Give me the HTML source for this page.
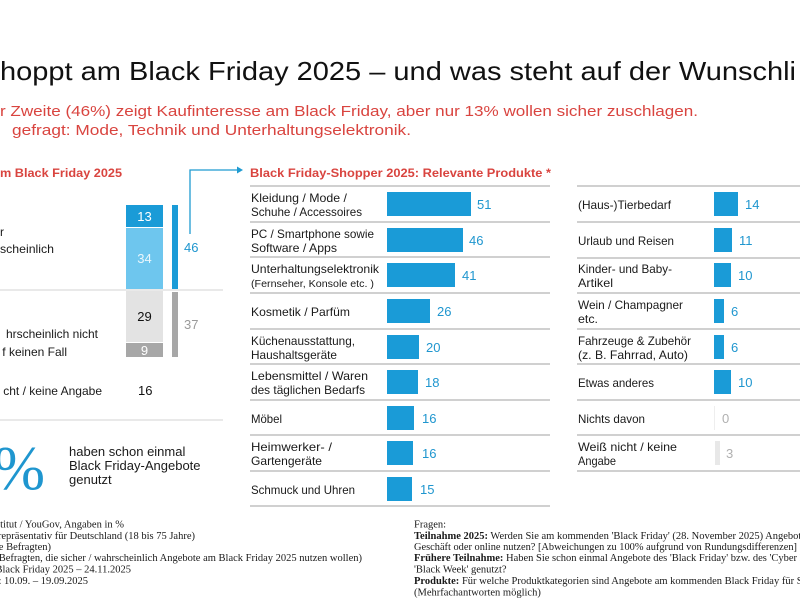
<!DOCTYPE html>
<html>
<head>
<meta charset="utf-8">
<style>
html,body{margin:0;padding:0;background:#fff;}
body{width:800px;height:600px;overflow:hidden;}
svg{display:block;}
text{font-family:"Liberation Sans","DejaVu Sans",sans-serif;}
.s{font-family:"Liberation Serif","DejaVu Serif",serif;font-size:10.5px;fill:#1a1a1a;}
.lb{font-size:12px;fill:#1a1a1a;}
.v{font-size:13px;fill:#1f96cf;}
.rl{stroke:#b4b4b4;stroke-width:1.2;}
.bar{fill:#1a9bd7;}
.pc{font-family:"Liberation Serif","DejaVu Serif",serif;font-size:62px;fill:#1f96cf;}
</style>
</head>
<body>
<svg width="800" height="600" viewBox="0 0 800 600" xmlns="http://www.w3.org/2000/svg">
<rect width="800" height="600" fill="#fff"/>

<!-- Title -->
<text x="0" y="80" font-size="26" fill="#111" textLength="796" lengthAdjust="spacingAndGlyphs">hoppt am Black Friday 2025 – und was steht auf der Wunschli</text>
<text x="0" y="116" font-size="15" fill="#d9443f" textLength="698" lengthAdjust="spacingAndGlyphs">r Zweite (46%) zeigt Kaufinteresse am Black Friday, aber nur 13% wollen sicher zuschlagen.</text>
<text x="12" y="135" font-size="15" fill="#d9443f" textLength="399" lengthAdjust="spacingAndGlyphs">gefragt: Mode, Technik und Unterhaltungselektronik.</text>

<!-- Left chart -->
<text x="0" y="177" font-size="12" font-weight="bold" fill="#d9443f" textLength="122" lengthAdjust="spacingAndGlyphs">m Black Friday 2025</text>

<rect x="126" y="205" width="37" height="22" fill="#1a9bd7"/>
<rect x="126" y="228" width="37" height="61" fill="#6ec6ee"/>
<rect x="126" y="291" width="37" height="51" fill="#e3e3e3"/>
<rect x="126" y="343" width="37" height="14" fill="#a7a7a7"/>
<text x="144.5" y="221" text-anchor="middle" font-size="13" fill="#fff">13</text>
<text x="144.5" y="263" text-anchor="middle" font-size="13" fill="#eaf6fc">34</text>
<text x="144.5" y="321" text-anchor="middle" font-size="13" fill="#111">29</text>
<text x="144.5" y="355" text-anchor="middle" font-size="13" fill="#fff">9</text>

<rect x="172" y="205" width="6" height="84" fill="#1a9bd7"/>
<rect x="172" y="292" width="6" height="65" fill="#a7a7a7"/>
<text x="184" y="252" font-size="13" fill="#1f96cf">46</text>
<text x="184" y="329" font-size="13" fill="#9a9a9a">37</text>

<line x1="0" y1="290" x2="223" y2="290" stroke="#dcdcdc" stroke-width="1.2"/>

<!-- arrow -->
<polyline points="190,234 190,170 238,170" fill="none" stroke="#1f9bd1" stroke-width="1.3"/>
<polygon points="237,166.5 243,170 237,173.5" fill="#1f9bd1"/>

<text x="0" y="236" class="lb">r</text>
<text x="0" y="253" class="lb" textLength="54" lengthAdjust="spacingAndGlyphs">scheinlich</text>
<text x="98" y="338" text-anchor="end" class="lb">hrscheinlich nicht</text>
<text x="67" y="356" text-anchor="end" class="lb">f keinen Fall</text>
<text x="102" y="395" text-anchor="end" class="lb">cht / keine Angabe</text>
<text x="138" y="395" font-size="13" fill="#111">16</text>

<line x1="0" y1="420" x2="223" y2="420" stroke="#dcdcdc" stroke-width="1.2"/>

<text x="45" y="489" text-anchor="end" class="pc">%</text>
<text x="69" y="456" font-size="13" fill="#1a1a1a">haben schon einmal</text>
<text x="69" y="470" font-size="13" fill="#1a1a1a">Black Friday-Angebote</text>
<text x="69" y="484" font-size="13" fill="#1a1a1a">genutzt</text>

<!-- Middle chart -->
<text x="250" y="177" font-size="12" font-weight="bold" fill="#d9443f" textLength="301" lengthAdjust="spacingAndGlyphs">Black Friday-Shopper 2025: Relevante Produkte *</text>
<line x1="250" y1="186" x2="550" y2="186" class="rl"/>
<line x1="250" y1="222" x2="550" y2="222" class="rl"/>
<line x1="250" y1="257" x2="550" y2="257" class="rl"/>
<line x1="250" y1="293" x2="550" y2="293" class="rl"/>
<line x1="250" y1="329" x2="550" y2="329" class="rl"/>
<line x1="250" y1="364" x2="550" y2="364" class="rl"/>
<line x1="250" y1="400" x2="550" y2="400" class="rl"/>
<line x1="250" y1="435" x2="550" y2="435" class="rl"/>
<line x1="250" y1="471" x2="550" y2="471" class="rl"/>
<line x1="250" y1="506" x2="550" y2="506" class="rl"/>

<rect class="bar" x="387" y="192" width="84" height="24"/>
<rect class="bar" x="387" y="228" width="76" height="24"/>
<rect class="bar" x="387" y="263" width="68" height="24"/>
<rect class="bar" x="387" y="299" width="43" height="24"/>
<rect class="bar" x="387" y="335" width="32" height="24"/>
<rect class="bar" x="387" y="370" width="31" height="24"/>
<rect class="bar" x="387" y="406" width="27" height="24"/>
<rect class="bar" x="387" y="441" width="26" height="24"/>
<rect class="bar" x="387" y="477" width="25" height="24"/>

<text class="v" x="477" y="209">51</text>
<text class="v" x="469" y="245">46</text>
<text class="v" x="462" y="280">41</text>
<text class="v" x="437" y="316">26</text>
<text class="v" x="426" y="352">20</text>
<text class="v" x="425" y="387">18</text>
<text class="v" x="422" y="423">16</text>
<text class="v" x="422" y="458">16</text>
<text class="v" x="420" y="494">15</text>

<text class="lb" x="251" y="202" textLength="96" lengthAdjust="spacingAndGlyphs">Kleidung / Mode /</text>
<text class="lb" x="251" y="216" textLength="111" lengthAdjust="spacingAndGlyphs">Schuhe / Accessoires</text>
<text class="lb" x="251" y="238" textLength="123" lengthAdjust="spacingAndGlyphs">PC / Smartphone sowie</text>
<text class="lb" x="251" y="252" textLength="86" lengthAdjust="spacingAndGlyphs">Software / Apps</text>
<text class="lb" x="251" y="273" textLength="128" lengthAdjust="spacingAndGlyphs">Unterhaltungselektronik</text>
<text x="251" y="287" font-size="10.5" fill="#1a1a1a" textLength="123" lengthAdjust="spacingAndGlyphs">(Fernseher, Konsole etc. )</text>
<text class="lb" x="251" y="316" textLength="99" lengthAdjust="spacingAndGlyphs">Kosmetik / Parfüm</text>
<text class="lb" x="251" y="345" textLength="104" lengthAdjust="spacingAndGlyphs">Küchenausstattung,</text>
<text class="lb" x="251" y="359" textLength="86" lengthAdjust="spacingAndGlyphs">Haushaltsgeräte</text>
<text class="lb" x="251" y="380" textLength="117" lengthAdjust="spacingAndGlyphs">Lebensmittel / Waren</text>
<text class="lb" x="251" y="394" textLength="114" lengthAdjust="spacingAndGlyphs">des täglichen Bedarfs</text>
<text class="lb" x="251" y="423" textLength="31" lengthAdjust="spacingAndGlyphs">Möbel</text>
<text class="lb" x="251" y="451" textLength="81" lengthAdjust="spacingAndGlyphs">Heimwerker- /</text>
<text class="lb" x="251" y="465" textLength="71" lengthAdjust="spacingAndGlyphs">Gartengeräte</text>
<text class="lb" x="251" y="494" textLength="104" lengthAdjust="spacingAndGlyphs">Schmuck und Uhren</text>

<!-- Right chart -->
<line x1="577" y1="186" x2="800" y2="186" class="rl"/>
<line x1="577" y1="222" x2="800" y2="222" class="rl"/>
<line x1="577" y1="258" x2="800" y2="258" class="rl"/>
<line x1="577" y1="293" x2="800" y2="293" class="rl"/>
<line x1="577" y1="329" x2="800" y2="329" class="rl"/>
<line x1="577" y1="364" x2="800" y2="364" class="rl"/>
<line x1="577" y1="400" x2="800" y2="400" class="rl"/>
<line x1="577" y1="435" x2="800" y2="435" class="rl"/>
<line x1="577" y1="471" x2="800" y2="471" class="rl"/>

<rect class="bar" x="714" y="192" width="24" height="24"/>
<rect class="bar" x="714" y="228" width="18" height="24"/>
<rect class="bar" x="714" y="263" width="17" height="24"/>
<rect class="bar" x="714" y="299" width="10" height="24"/>
<rect class="bar" x="714" y="335" width="10" height="24"/>
<rect class="bar" x="714" y="370" width="17" height="24"/>
<rect x="714" y="406" width="1" height="24" fill="#eeeeee"/>
<rect x="715" y="441" width="5" height="24" fill="#e8e8e8"/>

<text class="v" x="745" y="209">14</text>
<text class="v" x="739" y="245">11</text>
<text class="v" x="738" y="280">10</text>
<text class="v" x="731" y="316">6</text>
<text class="v" x="731" y="352">6</text>
<text class="v" x="738" y="387">10</text>
<text x="722" y="423" font-size="13" fill="#b0b0b0">0</text>
<text x="726" y="458" font-size="13" fill="#b0b0b0">3</text>

<text class="lb" x="578" y="209" textLength="93" lengthAdjust="spacingAndGlyphs">(Haus-)Tierbedarf</text>
<text class="lb" x="578" y="245" textLength="96" lengthAdjust="spacingAndGlyphs">Urlaub und Reisen</text>
<text class="lb" x="578" y="273" textLength="94" lengthAdjust="spacingAndGlyphs">Kinder- und Baby-</text>
<text class="lb" x="578" y="287" textLength="35" lengthAdjust="spacingAndGlyphs">Artikel</text>
<text class="lb" x="578" y="309" textLength="105" lengthAdjust="spacingAndGlyphs">Wein / Champagner</text>
<text class="lb" x="578" y="323" textLength="20" lengthAdjust="spacingAndGlyphs">etc.</text>
<text class="lb" x="578" y="345" textLength="113" lengthAdjust="spacingAndGlyphs">Fahrzeuge &amp; Zubehör</text>
<text class="lb" x="578" y="359" textLength="110" lengthAdjust="spacingAndGlyphs">(z. B. Fahrrad, Auto)</text>
<text class="lb" x="578" y="387" textLength="76" lengthAdjust="spacingAndGlyphs">Etwas anderes</text>
<text class="lb" x="578" y="423" textLength="67" lengthAdjust="spacingAndGlyphs">Nichts davon</text>
<text class="lb" x="578" y="451" textLength="99" lengthAdjust="spacingAndGlyphs">Weiß nicht / keine</text>
<text class="lb" x="578" y="465" textLength="38" lengthAdjust="spacingAndGlyphs">Angabe</text>

<!-- Footer left -->
<text class="s" x="124" y="527.5" text-anchor="end">titut / YouGov, Angaben in %</text>
<text class="s" x="195" y="539" text-anchor="end">repräsentativ für Deutschland (18 bis 75 Jahre)</text>
<text class="s" x="51" y="550" text-anchor="end">le Befragten)</text>
<text class="s" x="362" y="561" text-anchor="end">e Befragten, die sicher / wahrscheinlich Angebote am Black Friday 2025 nutzen wollen)</text>
<text class="s" x="131" y="572.5" text-anchor="end">h Black Friday 2025 – 24.11.2025</text>
<text class="s" x="88" y="584" text-anchor="end">m: 10.09. – 19.09.2025</text>

<!-- Footer right -->
<text class="s" x="414" y="527.5">Fragen:</text>
<text class="s" x="414" y="539"><tspan font-weight="bold">Teilnahme 2025:</tspan> Werden Sie am kommenden 'Black Friday' (28. November 2025) Angebote o</text>
<text class="s" x="414" y="550" textLength="383" lengthAdjust="spacingAndGlyphs">Geschäft oder online nutzen? [Abweichungen zu 100% aufgrund von Rundungsdifferenzen]</text>
<text class="s" x="414" y="561"><tspan font-weight="bold">Frühere Teilnahme:</tspan> Haben Sie schon einmal Angebote des 'Black Friday' bzw. des 'Cyber Mo</text>
<text class="s" x="414" y="572.5">'Black Week' genutzt?</text>
<text class="s" x="414" y="584"><tspan font-weight="bold">Produkte:</tspan> Für welche Produktkategorien sind Angebote am kommenden Black Friday für Si</text>
<text class="s" x="414" y="595.5">(Mehrfachantworten möglich)</text>
</svg>
</body>
</html>
